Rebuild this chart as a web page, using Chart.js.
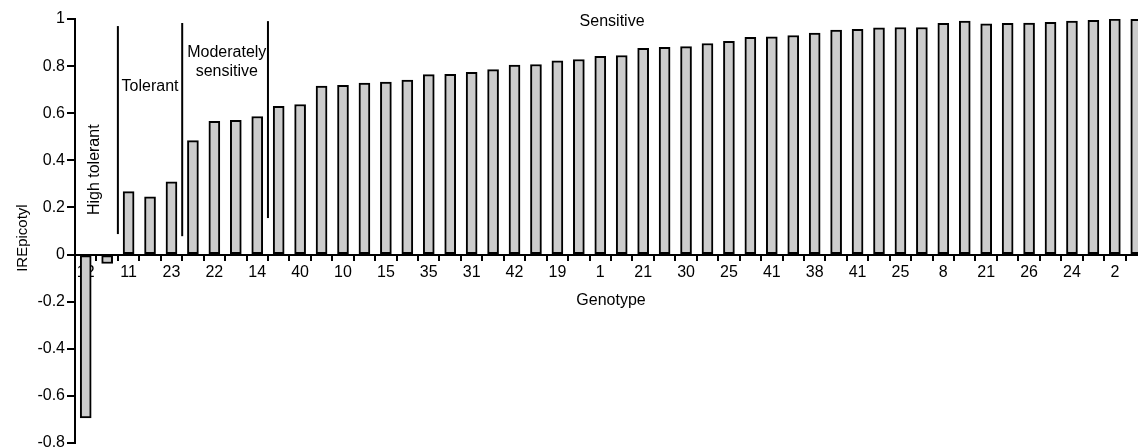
<!DOCTYPE html>
<html>
<head>
<meta charset="utf-8">
<script src="https://cdn.jsdelivr.net/npm/chart.js@4/dist/chart.umd.min.js"></script>
<style>
  html, body { margin: 0; padding: 0; background: #fff; }
  #wrap { width: 1138px; height: 447px; overflow: hidden; position: relative; }
  canvas { display: block; }
</style>
</head>
<body>
<div id="wrap"><canvas id="chart" width="1147" height="470"></canvas></div>
<script>
// Genotype labels shown under every second bar
const tickLabels = ["12", "11", "23", "22", "14", "40", "10", "15", "35", "31", "42", "19", "1",
  "21", "30", "25", "41", "38", "41", "25", "8", "21", "26", "24", "2"];

// |RE| epicotyl value of each bar (left to right)
const reValues = [
  -0.693, -0.038, 0.267, 0.245, 0.309, 0.484, 0.566, 0.570, 0.586, 0.629,
  0.637, 0.715, 0.718, 0.728, 0.732, 0.741, 0.764, 0.765, 0.774, 0.785,
  0.804, 0.807, 0.822, 0.828, 0.841, 0.845, 0.876, 0.880, 0.883, 0.896,
  0.905, 0.922, 0.924, 0.930, 0.940, 0.953, 0.956, 0.963, 0.964, 0.964,
  0.982, 0.991, 0.980, 0.982, 0.983, 0.986, 0.991, 0.994, 1.000, 0.999
];

// group separators: category boundary, line top / bottom (data units)
const dividerAt = [1.5, 4.5, 8.5];
const dividerTop = [0.97, 0.983, 0.991];
const dividerBottom = [0.087, 0.078, 0.155];

// group names and where they sit (category index, value)
const groupNames = [["High tolerant"], ["Tolerant"], ["Moderately", "sensitive"], ["Sensitive"]];
const groupX = [0.4, 3.0, 6.58, 24.55];
const groupY = [0.36, 0.714, 0.815, 0.988];
const groupVertical = [true, false, false, false];

const yTitle = "IREpicotyl";

const categories = reValues.map((v, i) => (i % 2 === 0 ? tickLabels[i / 2] : ""));

const FONT = "'Liberation Sans', Arial, sans-serif";

const groupPlugin = {
  id: "groups",
  afterDatasetsDraw(chart) {
    const { ctx, scales: { x, y } } = chart;
    ctx.save();
    ctx.strokeStyle = "#000";
    ctx.lineWidth = 2;
    dividerAt.forEach((d, i) => {
      const px = x.getPixelForValue(d);
      ctx.beginPath();
      ctx.moveTo(px, y.getPixelForValue(dividerTop[i]));
      ctx.lineTo(px, y.getPixelForValue(dividerBottom[i]));
      ctx.stroke();
    });
    ctx.fillStyle = "#000";
    ctx.font = "16px " + FONT;
    ctx.textAlign = "center";
    ctx.textBaseline = "middle";
    groupNames.forEach((lines, i) => {
      const px = x.getPixelForValue(groupX[i]);
      const py = y.getPixelForValue(groupY[i]);
      if (groupVertical[i]) {
        ctx.save();
        ctx.translate(px, py);
        ctx.rotate(-Math.PI / 2);
        ctx.fillText(lines[0], 0, 0);
        ctx.restore();
      } else {
        const lh = 19;
        lines.forEach((t, k) => {
          ctx.fillText(t, px, py + (k - (lines.length - 1) / 2) * lh);
        });
      }
    });
    // y axis title, a bit below the middle of the axis like the original
    ctx.font = "15px " + FONT;
    ctx.save();
    ctx.translate(y.left + 23, y.getPixelForValue(0.07));
    ctx.rotate(-Math.PI / 2);
    ctx.fillText(yTitle, 0, 0);
    ctx.restore();
    ctx.restore();
  }
};

new Chart(document.getElementById("chart"), {
  type: "bar",
  data: {
    labels: categories,
    datasets: [{
      data: reValues,
      backgroundColor: "#cccccc",
      borderColor: "#000",
      borderWidth: 2,
      borderSkipped: false,
      barThickness: 11
    }]
  },
  options: {
    responsive: false,
    animation: false,
    layout: { padding: { top: 19, bottom: 27, left: 0, right: 0 } },
    plugins: { legend: { display: false }, tooltip: { enabled: false } },
    scales: {
      x: {
        position: { y: 0 },
        grid: { drawOnChartArea: false, tickLength: 5, color: "#000", lineWidth: 2, offset: true },
        border: { color: "#000", width: 2 },
        ticks: { autoSkip: false, maxRotation: 0, padding: 3, color: "#000", font: { family: FONT, size: 16 } },
        title: { display: true, text: "Genotype", color: "#000", font: { family: FONT, size: 16 }, padding: { top: 6, bottom: 0 } }
      },
      y: {
        min: -0.8,
        max: 1,
        afterFit(scale) { scale.width = 75; },
        grid: { drawOnChartArea: false, tickLength: 8, color: "#000", lineWidth: 2 },
        border: { color: "#000", width: 2 },
        ticks: {
          stepSize: 0.2,
          padding: 2,
          color: "#000",
          font: { family: FONT, size: 16 },
          callback: v => String(+v.toFixed(1))
        }
      }
    }
  },
  plugins: [groupPlugin]
});
</script>
</body>
</html>
